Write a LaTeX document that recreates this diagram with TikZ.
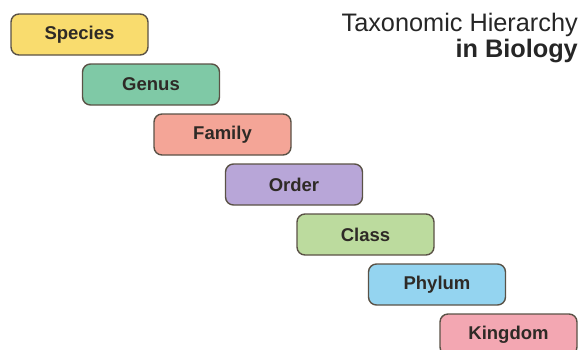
\documentclass[tikz,border=0pt]{standalone}
\usepackage{fontspec}
\setmainfont{Liberation Sans}
\usepackage{xcolor}
\usepackage{tikz}

\definecolor{speciesfill}{HTML}{F9DC6E}
\definecolor{genusfill}{HTML}{7FC9A6}
\definecolor{familyfill}{HTML}{F4A597}
\definecolor{orderfill}{HTML}{B8A6D8}
\definecolor{classfill}{HTML}{BCDB9E}
\definecolor{phylumfill}{HTML}{94D4F0}
\definecolor{kingdomfill}{HTML}{F3A7B2}
\definecolor{rankline}{HTML}{5A5246}
\definecolor{ranktext}{HTML}{2E2A26}

\begin{document}
\begin{tikzpicture}[
  x=1pt, y=1pt,
  rank/.style={rectangle, rounded corners=8pt, draw=rankline, line width=1.4pt,
    minimum width=137pt, minimum height=41pt, inner sep=0pt,
    font=\fontsize{18.5}{20}\selectfont\bfseries, text=ranktext},
  heading/.style={font=\fontsize{25.3}{28}\selectfont, text=black!85, inner sep=0pt},
]
\clip (0,0) rectangle (580,-349);
% title
\node[heading, anchor=base east] (title) at (578,-31) {Taxonomic Hierarchy};
\node[heading, anchor=base east, font=\fontsize{25.3}{28}\selectfont\bfseries] (subtitle) at (578,-57) {in Biology};
% ranks, stepping down to the right
\node[rank, fill=speciesfill] (species) at (79.5,-34.5) {Species};
\node[rank, fill=genusfill] (genus) at (151,-84.5) {Genus};
\node[rank, fill=familyfill] (family) at (222.5,-134.5) {Family};
\node[rank, fill=orderfill] (order) at (294,-184.5) {Order};
\node[rank, fill=classfill] (class) at (365.5,-234.5) {Class};
\node[rank, fill=phylumfill] (phylum) at (437,-284.5) {Phylum};
\node[rank, fill=kingdomfill] (kingdom) at (508.5,-334.5) {Kingdom};
\end{tikzpicture}
\end{document}
